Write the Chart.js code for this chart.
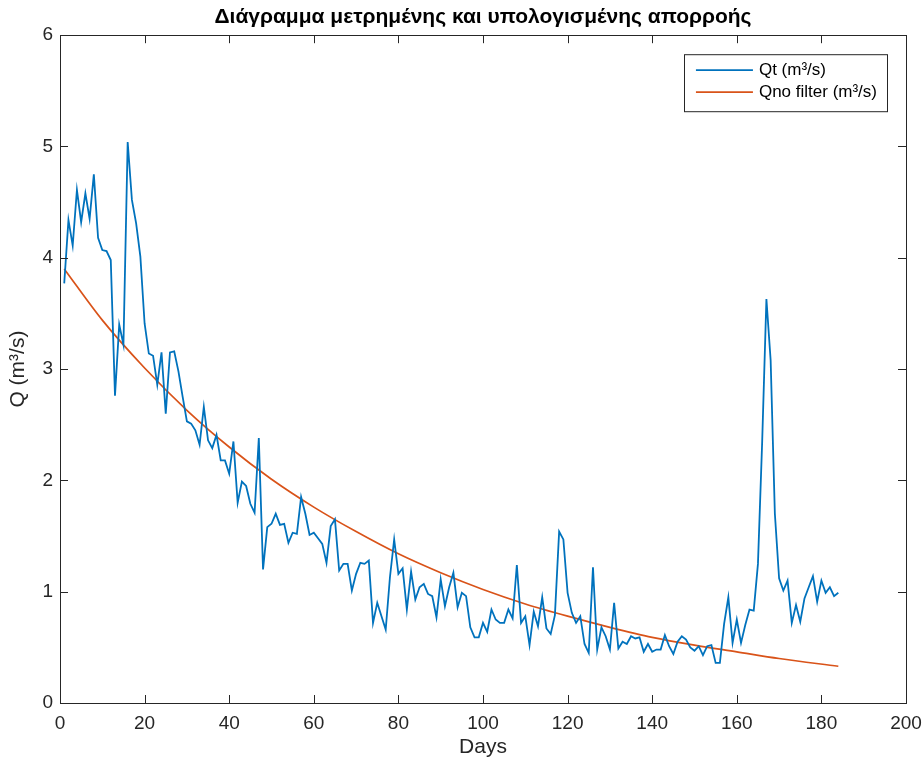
<!DOCTYPE html>
<html>
<head>
<meta charset="utf-8">
<script src="https://cdn.jsdelivr.net/npm/chart.js@4.4.1/dist/chart.umd.min.js"></script>
<style>
  html, body { margin: 0; padding: 0; background: #ffffff; }
  #grafico { display: block; }
</style>
</head>
<body>
<canvas id="grafico" width="924" height="762"></canvas>
<script>
// measured discharge, one value per day (day 1 .. 184)
const qt = [
  3.77, 4.34, 4.11, 4.61, 4.32, 4.58, 4.35, 4.75, 4.18, 4.07,
  4.06, 3.98, 2.76, 3.40, 3.22, 5.04, 4.52, 4.31, 4.01, 3.41,
  3.14, 3.12, 2.86, 3.15, 2.60, 3.15, 3.16, 2.98, 2.75, 2.53,
  2.51, 2.45, 2.32, 2.66, 2.36, 2.29, 2.41, 2.18, 2.18, 2.06,
  2.35, 1.80, 1.99, 1.95, 1.79, 1.71, 2.38, 1.20, 1.58, 1.61,
  1.70, 1.60, 1.61, 1.44, 1.53, 1.52, 1.85, 1.70, 1.51, 1.53,
  1.48, 1.43, 1.26, 1.59, 1.65, 1.19, 1.25, 1.25, 1.01, 1.16,
  1.26, 1.25, 1.28, 0.72, 0.90, 0.78, 0.66, 1.13, 1.47, 1.16,
  1.21, 0.84, 1.18, 0.93, 1.04, 1.07, 0.98, 0.96, 0.77, 1.11,
  0.87, 1.04, 1.17, 0.86, 0.99, 0.96, 0.68, 0.59, 0.59, 0.72,
  0.64, 0.84, 0.75, 0.72, 0.72, 0.84, 0.76, 1.24, 0.72, 0.78,
  0.52, 0.82, 0.69, 0.95, 0.67, 0.62, 0.79, 1.54, 1.47, 0.99,
  0.81, 0.72, 0.78, 0.53, 0.45, 1.22, 0.48, 0.68, 0.60, 0.48,
  0.90, 0.49, 0.55, 0.53, 0.60, 0.58, 0.59, 0.46, 0.53, 0.46,
  0.48, 0.48, 0.61, 0.51, 0.44, 0.55, 0.60, 0.57, 0.50, 0.47,
  0.51, 0.43, 0.51, 0.52, 0.36, 0.36, 0.71, 0.95, 0.54, 0.75,
  0.54, 0.70, 0.84, 0.83, 1.25, 2.35, 3.63, 3.08, 1.70, 1.12,
  1.01, 1.10, 0.72, 0.88, 0.73, 0.94, 1.04, 1.14, 0.91, 1.10,
  0.99, 1.04, 0.96, 0.99
];

// recession curve without filter, read at a few days
const fitDays = [1, 10, 20, 30, 40, 50, 60, 70, 80, 90, 100, 110, 120, 130, 140, 150, 160, 170, 184];
const fitQ    = [3.90, 3.44, 3.01, 2.63, 2.30, 2.01, 1.76, 1.54, 1.34, 1.17, 1.02, 0.89, 0.78, 0.68, 0.59, 0.52, 0.46, 0.40, 0.33];

const seriesNames = ['Qt (m³/s)', 'Qno filter (m³/s)'];
const seriesColors = ['#0072BD', '#D95319'];

const titulo = 'Διάγραμμα μετρημένης και υπολογισμένης απορροής';
const xLabel = 'Days';
const yLabel = 'Q (m³/s)';

const FONT = '"Liberation Sans", Arial, Helvetica, sans-serif';
const INK = '#262626';

// box around the axes with inward tick marks on all four sides
const molduraPlugin = {
  id: 'moldura',
  afterDatasetsDraw(chart) {
    const {ctx, chartArea: a, scales} = chart;
    const len = 8;
    ctx.save();
    ctx.strokeStyle = INK;
    ctx.lineWidth = 1;
    ctx.beginPath();
    scales.x.ticks.forEach(t => {
      const px = Math.round(scales.x.getPixelForValue(t.value)) + 0.5;
      ctx.moveTo(px, a.bottom); ctx.lineTo(px, a.bottom - len);
      ctx.moveTo(px, a.top);    ctx.lineTo(px, a.top + len);
    });
    scales.y.ticks.forEach(t => {
      const py = Math.round(scales.y.getPixelForValue(t.value)) + 0.5;
      ctx.moveTo(a.left, py);  ctx.lineTo(a.left + len, py);
      ctx.moveTo(a.right, py); ctx.lineTo(a.right - len, py);
    });
    ctx.stroke();
    ctx.strokeRect(Math.round(a.left) + 0.5, Math.round(a.top) + 0.5,
                   Math.round(a.right - a.left), Math.round(a.bottom - a.top));
    ctx.restore();
  }
};

// legend box inside the upper right corner of the axes
const legendaPlugin = {
  id: 'legenda',
  afterDraw(chart) {
    const {ctx, chartArea: a} = chart;
    const sets = chart.data.datasets;
    ctx.save();
    ctx.font = '17px ' + FONT;
    const textW = Math.max(...sets.map(d => ctx.measureText(d.label).width));
    const w = 75 + textW + 10;
    const h = 57;
    const right = a.right - 19;
    const left = right - w;
    const top = a.top + 19;
    ctx.fillStyle = '#ffffff';
    ctx.fillRect(left, top, w, h);
    ctx.strokeStyle = INK;
    ctx.lineWidth = 1;
    ctx.strokeRect(Math.round(left) + 0.5, top + 0.5, Math.round(w), h);
    sets.forEach((d, i) => {
      const y = top + 16 + i * 22;
      ctx.strokeStyle = d.borderColor;
      ctx.lineWidth = d.borderWidth;
      ctx.beginPath();
      ctx.moveTo(left + 12, y);
      ctx.lineTo(left + 69, y);
      ctx.stroke();
      ctx.fillStyle = '#000000';
      ctx.textBaseline = 'middle';
      ctx.fillText(d.label, left + 75, y);
    });
    ctx.restore();
  }
};

new Chart(document.getElementById('grafico'), {
  type: 'line',
  data: {
    datasets: [
      {
        label: seriesNames[0],
        data: qt.map((v, i) => ({x: i + 1, y: v})),
        borderColor: seriesColors[0],
        borderWidth: 1.8,
        pointRadius: 0,
        tension: 0
      },
      {
        label: seriesNames[1],
        data: fitDays.map((d, i) => ({x: d, y: fitQ[i]})),
        borderColor: seriesColors[1],
        borderWidth: 1.7,
        pointRadius: 0,
        cubicInterpolationMode: 'monotone'
      }
    ]
  },
  options: {
    responsive: false,
    animation: false,
    devicePixelRatio: 1,
    layout: { padding: { left: 0, right: 18, top: 0, bottom: 0 } },
    plugins: {
      legend: { display: false },
      tooltip: { enabled: false },
      title: {
        display: true,
        fullSize: false,
        text: titulo,
        color: '#000000',
        font: { family: FONT, size: 21, weight: 'bold' },
        padding: { top: 5, bottom: 5 }
      }
    },
    scales: {
      x: {
        type: 'linear',
        min: 0,
        max: 200,
        grid: { display: false, drawTicks: false },
        border: { display: false },
        ticks: { stepSize: 20, color: INK, padding: 9, maxRotation: 0, font: { family: FONT, size: 19 } },
        title: { display: true, text: xLabel, color: INK, padding: { top: 0, bottom: 2 }, font: { family: FONT, size: 21 } },
        afterFit(scale) { scale.height = 59; scale.paddingRight = 0; scale.paddingLeft = 0; }
      },
      y: {
        min: 0,
        max: 6,
        grid: { display: false, drawTicks: false },
        border: { display: false },
        ticks: { stepSize: 1, color: INK, padding: 7, font: { family: FONT, size: 19 } },
        title: { display: true, text: yLabel, color: INK, padding: { top: 6, bottom: 0 }, font: { family: FONT, size: 21 } },
        afterFit(scale) { scale.width = 60; }
      }
    }
  },
  plugins: [molduraPlugin, legendaPlugin]
});
</script>
</body>
</html>
